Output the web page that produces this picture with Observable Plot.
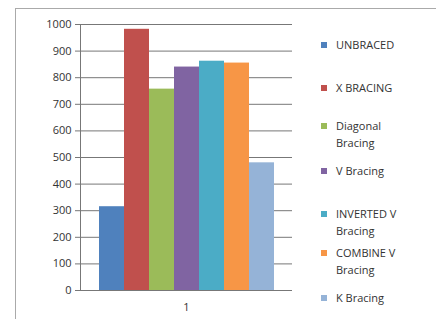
<!DOCTYPE html>
<html><head><meta charset="utf-8">
<script src="https://cdn.jsdelivr.net/npm/d3@7"></script>
<script src="https://cdn.jsdelivr.net/npm/@observablehq/plot@0.6"></script>
<style>
body{margin:0;background:#fff;font-family:"Open Sans",sans-serif;}
#wrap{position:relative;width:436px;height:319px;overflow:hidden;}
#border{position:absolute;left:15px;top:8px;width:440px;height:330px;border:1px solid #aaa;box-sizing:border-box;}
#chart{position:absolute;left:0;top:0;}
#legend{position:absolute;left:321px;top:0;font-size:11px;color:#333;line-height:17px;}
.item{position:absolute;left:0;white-space:nowrap;}
.sw{position:absolute;left:0;width:6px;height:6px;}
.lab{position:absolute;left:15px;}
</style></head><body>
<div id="wrap"><div id="border"></div><div id="chart"></div><div id="legend"></div></div>
<script>
const categories = ["1"];
const series = ["UNBRACED","X BRACING","Diagonal Bracing","V Bracing","INVERTED V Bracing","COMBINE V Bracing","K Bracing"];
const legendLines = [["UNBRACED"],["X BRACING"],["Diagonal","Bracing"],["V Bracing"],["INVERTED V","Bracing"],["COMBINE V","Bracing"],["K Bracing"]];
const values = [315, 982, 757, 840, 862, 855, 480];
const colors = ["#4F81BD","#C0504D","#9BBB59","#8064A2","#4BACC6","#F79646","#95B3D7"];
const yTicks = [0,100,200,300,400,500,600,700,800,900,1000];

const data = series.map((s,i)=>({cat:categories[0], series:s, value:values[i]}));

const chart = Plot.plot({
  width:436, height:319,
  marginLeft:80, marginRight:144, marginTop:24, marginBottom:29,
  style:{fontFamily:"Open Sans, sans-serif", fontSize:"11px", color:"#333", background:"transparent"},
  fx:{domain:categories, padding:0, label:null},
  x:{domain:series, paddingInner:0, paddingOuter:0.72, axis:null},
  y:{domain:[0,1000], ticks:yTicks, label:null},
  color:{domain:series, range:colors},
  marks:[
    Plot.gridY(yTicks.filter(d=>d>0), {stroke:"#777", strokeOpacity:1}),
    Plot.axisY(yTicks, {tickSize:5, tickPadding:4, stroke:"#777", fill:"#333", fontSize:11, tickFormat:d3.format("d")}),
    Plot.axisFx({anchor:"bottom", tickSize:0, tickPadding:13, fontSize:11, fill:"#333", label:null}),
    Plot.barY(data, {fx:"cat", x:"series", y:"value", fill:"series"}),
    Plot.frame({anchor:"left", stroke:"#777"}),
    Plot.ruleY([0], {stroke:"#777"})
  ]
});
document.getElementById("chart").appendChild(chart);

const tops = [36,79,117,162,205,244,289];
const leg = document.getElementById("legend");
legendLines.forEach((lines,i)=>{
  const it = document.createElement("div");
  it.className="item"; it.style.top = tops[i]+"px";
  const sw = document.createElement("div"); sw.className="sw"; sw.style.background=colors[i]; sw.style.top="6px";
  it.appendChild(sw);
  const lab = document.createElement("div"); lab.className="lab";
  lab.innerHTML = lines.join("<br>");
  it.appendChild(lab);
  leg.appendChild(it);
});
</script>
</body></html>
